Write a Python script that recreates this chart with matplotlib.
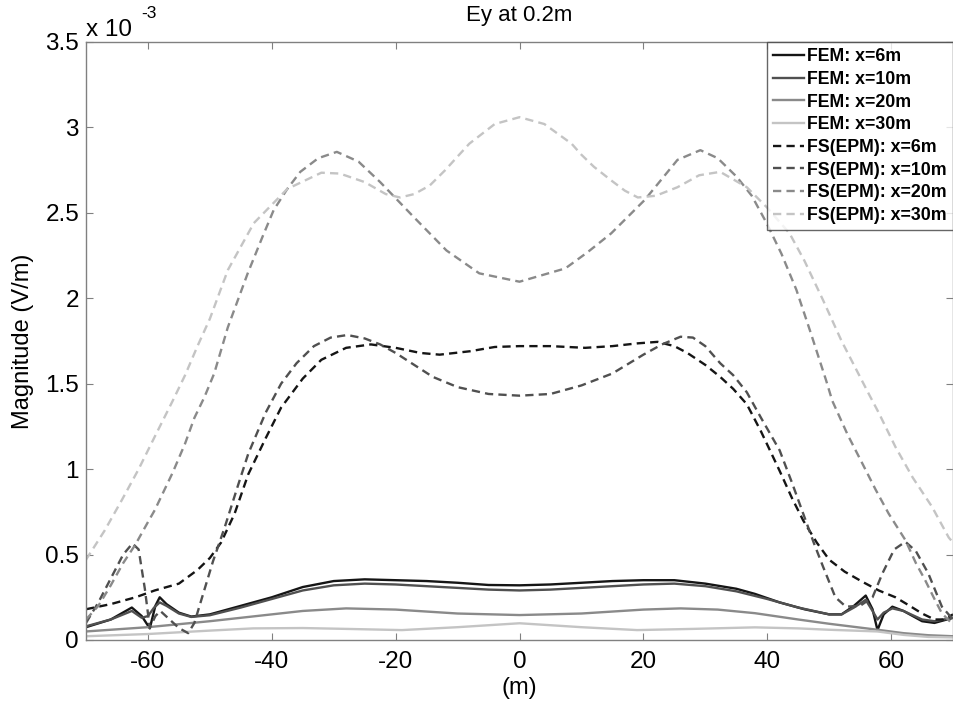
import numpy as np
import matplotlib
matplotlib.use("Agg")
import matplotlib.pyplot as plt
from matplotlib.ticker import FuncFormatter

plt.rcParams['font.family'] = ['Liberation Sans', 'DejaVu Sans']
plt.rcParams['axes.unicode_minus'] = False

# ---- data (values in units of 1e-3 V/m) ----
x_fem6 = [-70, -66, -62.6, -61, -59.7, -58.8, -58.1, -57, -55, -53, -50, -45, -40, -35, -30, -25, -20, -15, -10, -5, 0,
          5, 10, 15, 20, 25, 30, 35, 38, 42, 46, 50, 52, 54, 55.9, 57, 57.8, 58.8, 60.2, 62, 65, 67, 70]
y_fem6 = [0.075, 0.12, 0.19, 0.14, 0.068, 0.2, 0.25, 0.21, 0.16, 0.137, 0.15, 0.2, 0.25, 0.31, 0.345, 0.355, 0.35, 0.345, 0.335, 0.322, 0.32,
          0.325, 0.335, 0.345, 0.35, 0.35, 0.33, 0.3, 0.27, 0.22, 0.18, 0.15, 0.15, 0.2, 0.26, 0.18, 0.058, 0.15, 0.195, 0.17, 0.11, 0.1, 0.13]

x_fem10 = [-70, -66, -62.6, -61, -60, -59, -58.1, -57, -55, -53, -50, -45, -40, -35, -30, -25, -20, -15, -10, -5, 0,
           5, 10, 15, 20, 25, 30, 35, 40, 45, 50, 52, 54, 55.9, 57, 57.8, 58.8, 60.2, 62, 65, 67, 70]
y_fem10 = [0.08, 0.12, 0.17, 0.13, 0.14, 0.19, 0.22, 0.2, 0.155, 0.135, 0.145, 0.19, 0.24, 0.29, 0.32, 0.33, 0.325, 0.315, 0.305, 0.295, 0.29,
           0.295, 0.305, 0.315, 0.325, 0.33, 0.315, 0.285, 0.24, 0.19, 0.15, 0.15, 0.19, 0.235, 0.17, 0.12, 0.16, 0.185, 0.17, 0.12, 0.11, 0.13]

x_fem20 = [-70, -60, -50, -43, -35, -28, -20, -10, 0, 10, 20, 26, 32, 38, 45, 50, 57.8, 62, 66, 70]
y_fem20 = [0.05, 0.075, 0.11, 0.138, 0.17, 0.185, 0.178, 0.155, 0.146, 0.155, 0.178, 0.185, 0.178, 0.157, 0.12, 0.095, 0.06, 0.04, 0.028, 0.022]

x_fem30 = [-70, -60, -50, -43, -35, -28, -19, -10, 0, 10, 19, 28, 38, 45, 50, 57.8, 62, 66, 70]
y_fem30 = [0.022, 0.035, 0.055, 0.068, 0.07, 0.065, 0.058, 0.075, 0.098, 0.075, 0.058, 0.065, 0.074, 0.068, 0.06, 0.05, 0.03, 0.018, 0.015]

x_fs6 = [-70, -66, -62, -58.9, -55, -52, -50, -48.2, -46, -43.8, -41, -38.5, -35, -32, -28, -24, -20, -16, -12.9, -8, -4, 0,
         5, 10.6, 15, 19, 22.3, 25, 27.1, 30, 32.4, 34.5, 36.7, 39, 42, 44, 45.8, 48, 50, 52.5, 55.4, 58, 60.7, 63, 65, 67, 68.5, 70]
y_fs6 = [0.18, 0.21, 0.25, 0.29, 0.33, 0.41, 0.48, 0.57, 0.74, 0.97, 1.18, 1.36, 1.53, 1.64, 1.71, 1.73, 1.71, 1.68, 1.67, 1.69, 1.715, 1.72,
         1.72, 1.71, 1.72, 1.736, 1.745, 1.72, 1.68, 1.61, 1.54, 1.47, 1.38, 1.22, 0.99, 0.83, 0.70, 0.57, 0.47, 0.40, 0.34, 0.29, 0.25, 0.2, 0.155, 0.12, 0.12, 0.15]

x_fs10 = [-70, -68, -66, -64, -62.5, -61.5, -60.5, -59.7, -58.8, -58, -56.5, -55, -53.5, -52.5, -51, -49.5, -47.6, -45.5, -43.8, -41, -38.5, -36, -33.2, -30.5, -27.8, -25, -22.5, -20, -17, -14, -10, -5, 0,
          5, 10, 15, 20, 23, 26, 28, 30, 32.4, 34.5, 36.7, 39, 42, 44, 45.8, 47.5, 49, 51, 52.7, 55, 57, 58.6, 60.5, 62.3, 64, 66, 68.2, 70]
y_fs10 = [0.10, 0.22, 0.36, 0.50, 0.565, 0.53, 0.3, 0.07, 0.14, 0.17, 0.12, 0.07, 0.04, 0.1, 0.28, 0.46, 0.66, 0.9, 1.09, 1.33, 1.5, 1.62, 1.72, 1.77, 1.785, 1.765, 1.73, 1.68, 1.61, 1.54, 1.48, 1.44, 1.43,
          1.44, 1.49, 1.56, 1.67, 1.73, 1.775, 1.77, 1.72, 1.62, 1.55, 1.45, 1.3, 1.11, 0.92, 0.74, 0.57, 0.43, 0.25, 0.195, 0.2, 0.25, 0.39, 0.53, 0.575, 0.52, 0.39, 0.195, 0.12]

x_fs20 = [-70, -68, -66, -64, -62, -60, -58.9, -56, -54, -52.5, -50.9, -49.3, -47.1, -43.9, -41.5, -39.7, -37.5, -35.4, -32.5, -29.5, -26, -22.5, -17.2, -11.8, -6.5, 0,
          7.4, 11, 14.8, 20.2, 25.5, 29.2, 32, 35.1, 37.5, 39.9, 42.3, 44.7, 47, 49.5, 50.5, 53, 55.4, 57.5, 59.6, 62.3, 64, 65.5, 67, 68.2, 70]
y_fs20 = [0.12, 0.2, 0.32, 0.45, 0.56, 0.69, 0.76, 0.98, 1.15, 1.3, 1.42, 1.56, 1.83, 2.145, 2.36, 2.516, 2.64, 2.74, 2.82, 2.857, 2.8, 2.68, 2.48, 2.28, 2.146, 2.097,
          2.175, 2.27, 2.38, 2.575, 2.81, 2.867, 2.82, 2.71, 2.6, 2.44, 2.26, 2.05, 1.8, 1.52, 1.40, 1.2, 1.03, 0.88, 0.74, 0.585, 0.45, 0.35, 0.24, 0.156, 0.09]

x_fs30 = [-70, -67, -64.2, -61.5, -58.9, -56, -54, -52, -50, -47.1, -42.9, -37.5, -32, -29, -25, -21.6, -19.3, -17, -14.5, -12, -10, -8.1, -4, 0,
          4, 8.4, 10, 12, 14.8, 17, 19.1, 22, 25.5, 29, 32.4, 36.7, 40, 43.6, 46, 49, 52, 56.4, 58, 60.7, 63.5, 66.6, 69.3, 70]
y_fs30 = [0.47, 0.64, 0.82, 1.0, 1.19, 1.40, 1.55, 1.72, 1.88, 2.165, 2.44, 2.64, 2.735, 2.73, 2.68, 2.61, 2.59, 2.61, 2.66, 2.75, 2.83, 2.905, 3.02, 3.06,
          3.02, 2.905, 2.84, 2.77, 2.69, 2.63, 2.59, 2.6, 2.65, 2.72, 2.74, 2.65, 2.53, 2.38, 2.22, 1.99, 1.75, 1.44, 1.33, 1.13, 0.95, 0.78, 0.60, 0.57]

labels = ['FEM: x=6m', 'FEM: x=10m', 'FEM: x=20m', 'FEM: x=30m',
          'FS(EPM): x=6m', 'FS(EPM): x=10m', 'FS(EPM): x=20m', 'FS(EPM): x=30m']
xticks = [-60, -40, -20, 0, 20, 40, 60]
yticks = [0, 0.5, 1, 1.5, 2, 2.5, 3, 3.5]

series = [(x_fem6, y_fem6), (x_fem10, y_fem10), (x_fem20, y_fem20), (x_fem30, y_fem30),
          (x_fs6, y_fs6), (x_fs10, y_fs10), (x_fs20, y_fs20), (x_fs30, y_fs30)]
colors = ['#151515', '#505050', '#8a8a8a', '#c4c4c4'] * 2
styles = ['-'] * 4 + ['--'] * 4

fig = plt.figure(figsize=(9.54, 7.04), dpi=100)
ax = fig.add_axes([86/954, 1 - 640/704, 1 - 86/954 - 0.001, (640 - 42)/704])

for (xs, ys), c, ls, lab in zip(series, colors, styles, labels):
    kw = dict(color=c, lw=1.7, label=lab)
    if ls == '--':
        kw['dashes'] = (3.5, 2.2)
    ax.plot(xs, np.array(ys) * 1e-3, ls, **kw)

ax.set_xlim(-70, 70)
ax.set_ylim(0, 3.5e-3)
ax.set_xticks(xticks)
ax.set_yticks([v * 1e-3 for v in yticks])
ax.yaxis.set_major_formatter(FuncFormatter(lambda v, p: f"{v*1e3:g}"))
ax.tick_params(direction='in', length=5, width=0.8, color='#808080',
               top=True, right=True, labelsize=17.5)
ax.tick_params(axis='x', pad=8)
ax.tick_params(axis='y', pad=5)
for s in ax.spines.values():
    s.set_color('#808080')
    s.set_linewidth(1.0)

ax.set_title('Ey at 0.2m', fontsize=16, pad=15)
ax.set_xlabel('(m)', fontsize=17, labelpad=3)
ax.set_ylabel('Magnitude (V/m)', fontsize=17, labelpad=8)

fig.text(86/954, 1 - 36/704, 'x 10', fontsize=17.5, ha='left', va='baseline')
fig.text(141/954, 1 - 18/704, '-3', fontsize=12.5, ha='left', va='baseline')

leg = ax.legend(loc='upper right', prop={'weight': 'bold', 'size': 12.8},
                frameon=True, fancybox=False, borderaxespad=0, handlelength=1.7,
                handletextpad=0.2, labelspacing=0.32, borderpad=0.35)
leg.get_frame().set_edgecolor('#404040')
leg.get_frame().set_linewidth(1.0)

fig.savefig('out.png', dpi=100)
